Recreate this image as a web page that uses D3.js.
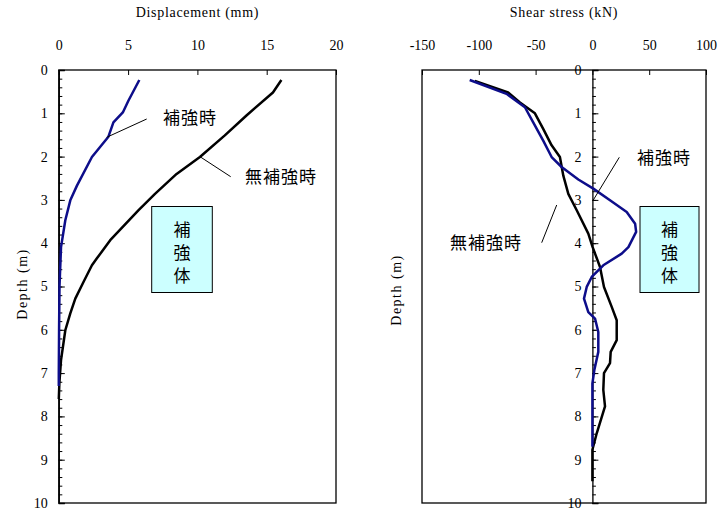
<!DOCTYPE html>
<html>
<head>
<meta charset="utf-8">
<script src="https://cdn.jsdelivr.net/npm/d3@7"></script>
<style>
  html, body { margin: 0; padding: 0; background: #fff; }
</style>
</head>
<body>
<svg id="chart" width="726" height="513"></svg>
<script>
// Depth profiles (m) with displacement (mm)
const dispDepthReinforced = [0.23, 0.71, 0.98, 1.21, 1.54, 2.01, 2.67, 3.01, 3.47, 4.09, 5.0, 6.0, 7.0, 7.3];
const dispReinforced      = [5.81, 5.02, 4.62, 3.94, 3.58, 2.39, 1.31, 0.83, 0.47, 0.16, 0.05, 0.02, 0.0, 0.0];
const dispDepthPlain = [0.23, 0.52, 1.05, 1.51, 2.01, 2.40, 2.86, 3.24, 3.93, 4.35, 4.51, 4.89, 5.28, 5.62, 6.01, 6.70, 7.24, 7.6];
const dispPlain      = [16.06, 15.45, 13.54, 11.98, 10.18, 8.5, 6.94, 5.74, 3.71, 2.75, 2.39, 1.79, 1.19, 0.83, 0.47, 0.16, 0.04, 0.0];

// Depth profiles (m) with shear force (kN)
const shearDepthReinforced = [0.23, 0.55, 0.86, 1.21, 1.63, 2.01, 2.24, 2.53, 2.74, 3.01, 3.28, 3.55, 3.74, 4.09, 4.24, 4.51, 4.78, 5.01, 5.28, 5.59, 5.74, 6.05, 6.51, 6.93, 7.24, 8.7];
const shearReinforced      = [-108, -75.6, -59.4, -52.1, -43.3, -35.9, -27.1, -12.4, 0.8, 15.5, 30.2, 37.6, 38.5, 31.7, 25.8, 9.6, -0.6, -5, -7.4, -3.6, 2.3, 5.2, 5.2, 1.7, 0, 0];
const shearDepthPlain = [0.25, 0.52, 0.75, 1.0, 1.36, 1.74, 2.01, 2.44, 2.86, 3.24, 3.78, 4.09, 4.55, 5.01, 5.47, 5.78, 6.24, 6.51, 6.77, 7.0, 7.39, 7.77, 8.39, 8.77, 9.5];
const shearPlain      = [-103.5, -74.2, -63.8, -50.6, -43.3, -35.9, -28.6, -25.6, -21.2, -13.8, -3.6, 0.2, 6.7, 10.2, 17, 21.4, 21.4, 16.1, 15.5, 10.2, 9.6, 11.1, 3.8, 0, 0];

// Axis ticks
const depthTicks = [0, 1, 2, 3, 4, 5, 6, 7, 8, 9, 10];
const depthMinorTicks = d3.range(0, 10.001, 0.2).map(v => +v.toFixed(1));
const dispTicks = [0, 5, 10, 15, 20];
const shearTicks = [-150, -100, -50, 0, 50, 100];

const SERIF = '"Liberation Serif", "Times New Roman", "DejaVu Serif", serif';
const GOTHIC = '"Noto Sans CJK JP", "Noto Sans", sans-serif';
const fmt = d => String(d);   // plain hyphen for negatives

const svg = d3.select("#chart");
const plotTop = 70, plotBottom = 503;
const y = d3.scaleLinear().domain([0, 10]).range([plotTop, plotBottom]);

const xDisp = d3.scaleLinear().domain([0, 20]).range([58.8, 336]);
const xShear = d3.scaleLinear().domain([-150, 100]).range([422, 706]);

const BLUE = "#0d0d8a";
const lineGen = (xs) => d3.line().x(d => xs(d[0])).y(d => y(d[1]));

function serifText(sel, size) {
  return sel.style("font-family", SERIF).style("font-size", size + "px").attr("fill", "#000");
}

function frame(xs) {
  const [x0, x1] = xs.range();
  svg.append("rect").attr("x", x0).attr("y", plotTop).attr("width", x1 - x0).attr("height", plotBottom - plotTop)
    .attr("fill", "none").attr("stroke", "#000").attr("stroke-width", 1.3);
}

function topAxis(xs, ticks, title) {
  const g = svg.append("g").attr("transform", `translate(0,${plotTop})`)
    .call(d3.axisTop(xs).tickValues(ticks).tickSize(-5).tickPadding(20).tickFormat(fmt));
  g.select(".domain").remove();
  g.selectAll("line").attr("stroke", "#000");
  serifText(g.selectAll("text"), 14);
  const [x0, x1] = xs.range();
  serifText(svg.append("text"), 14).attr("x", (x0 + x1) / 2).attr("y", 17).attr("text-anchor", "middle")
    .style("letter-spacing", "0.7px").text(title);
}

function depthAxis(xPos) {
  const g = svg.append("g").attr("transform", `translate(${xPos},0)`)
    .call(d3.axisLeft(y).tickValues(depthTicks).tickSize(-6).tickPadding(11).tickFormat(fmt));
  g.select(".domain").attr("stroke", "#000").attr("stroke-width", 1.3);
  g.selectAll("line").attr("stroke", "#000");
  serifText(g.selectAll("text"), 14);
  const m = svg.append("g").attr("transform", `translate(${xPos},0)`)
    .call(d3.axisLeft(y).tickValues(depthMinorTicks).tickSize(-3.5).tickFormat(""));
  m.select(".domain").remove();
  m.selectAll("line").attr("stroke", "#000");
}

function depthTitle(xPos, yPos) {
  serifText(svg.append("text"), 14)
    .attr("transform", `translate(${xPos},${yPos}) rotate(-90)`)
    .attr("dy", "0.35em").attr("text-anchor", "middle")
    .style("letter-spacing", "1.5px").text("Depth (m)");
}

function jpLabel(x, yc, text) {
  svg.append("text").attr("x", x).attr("y", yc).attr("dy", "0.36em")
    .style("font-family", GOTHIC).style("font-size", "17px").style("letter-spacing", "1px")
    .attr("fill", "#000").text(text);
}

function leader(x1, y1, x2, y2) {
  svg.append("line").attr("x1", x1).attr("y1", y1).attr("x2", x2).attr("y2", y2)
    .attr("stroke", "#000").attr("stroke-width", 1);
}

function reinforcementBox(x0, x1) {
  svg.append("rect").attr("x", x0).attr("y", 206.5).attr("width", x1 - x0).attr("height", 86)
    .attr("fill", "#ccffff").attr("stroke", "#000").attr("stroke-width", 1);
  ["補", "強", "体"].forEach((c, i) => {
    svg.append("text").attr("x", (x0 + x1) / 2).attr("y", 230 + i * 23)
      .attr("dy", "0.36em").attr("text-anchor", "middle")
      .style("font-family", GOTHIC).style("font-size", "17px").attr("fill", "#000").text(c);
  });
}

// ---- Displacement panel ----
frame(xDisp);
topAxis(xDisp, dispTicks, "Displacement (mm)");
depthAxis(xDisp(0));
depthTitle(22, 284);

svg.append("path").datum(d3.zip(dispPlain, dispDepthPlain))
  .attr("d", lineGen(xDisp)).attr("fill", "none").attr("stroke", "#000").attr("stroke-width", 2.5)
  .attr("stroke-linejoin", "round");
svg.append("path").datum(d3.zip(dispReinforced, dispDepthReinforced))
  .attr("d", lineGen(xDisp)).attr("fill", "none").attr("stroke", BLUE).attr("stroke-width", 2.5)
  .attr("stroke-linejoin", "round");

leader(106.7, 137.3, 146.7, 119);
jpLabel(163, 118, "補強時");
leader(200, 156.7, 230.7, 176.7);
jpLabel(245, 177, "無補強時");
reinforcementBox(151.7, 212.3);

// ---- Shear panel ----
frame(xShear);
topAxis(xShear, shearTicks, "Shear stress (kN)");
depthAxis(xShear(0));
depthTitle(396, 290);

svg.append("path").datum(d3.zip(shearPlain, shearDepthPlain))
  .attr("d", lineGen(xShear)).attr("fill", "none").attr("stroke", "#000").attr("stroke-width", 2.5)
  .attr("stroke-linejoin", "round");
svg.append("path").datum(d3.zip(shearReinforced, shearDepthReinforced))
  .attr("d", lineGen(xShear)).attr("fill", "none").attr("stroke", BLUE).attr("stroke-width", 2.5)
  .attr("stroke-linejoin", "round");

leader(619.3, 157.3, 593.3, 200);
jpLabel(637, 158, "補強時");
leader(556.7, 205, 541.7, 242.7);
jpLabel(450, 243, "無補強時");
reinforcementBox(640, 699);
</script>
</body>
</html>
